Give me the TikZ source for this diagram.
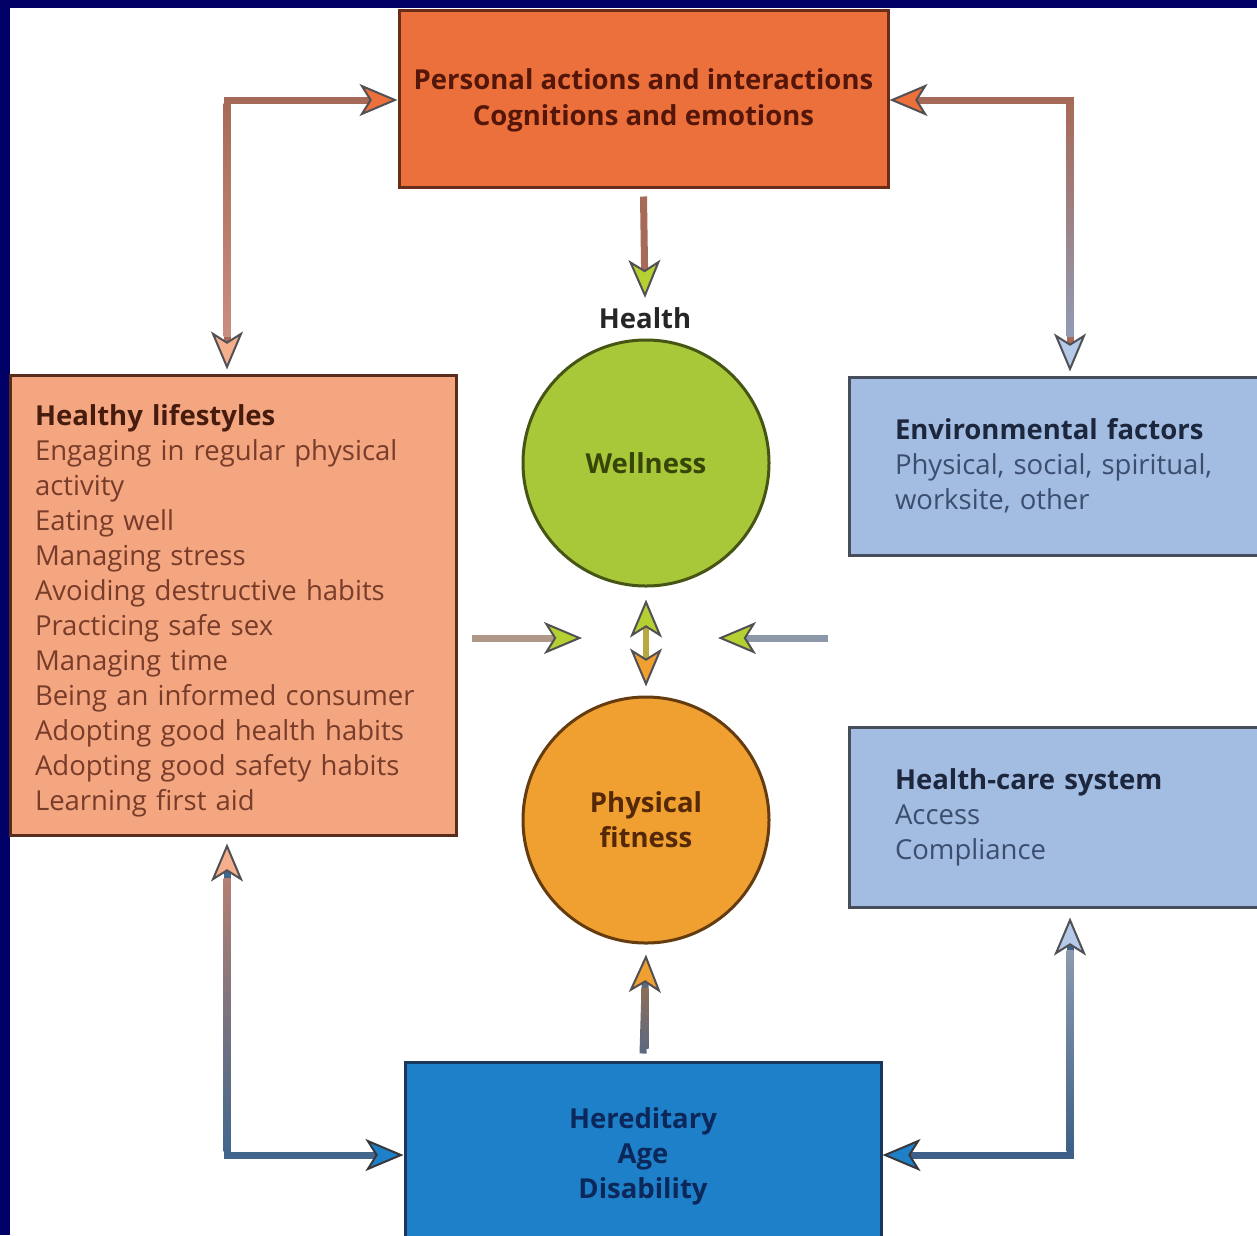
\documentclass[tikz,border=0pt]{standalone}
\usepackage{fontspec}
\setmainfont{Open Sans}
\usetikzlibrary{arrows.meta,calc}
\definecolor{navy}{RGB}{0,0,102}
\definecolor{topfill}{RGB}{236,112,60}
\definecolor{topborder}{RGB}{105,45,25}
\definecolor{toptext}{RGB}{85,22,10}
\definecolor{lifefill}{RGB}{244,166,128}
\definecolor{lifeborder}{RGB}{88,45,28}
\definecolor{lifetitle}{RGB}{70,28,15}
\definecolor{lifetext}{RGB}{120,60,42}
\definecolor{envfill}{RGB}{162,188,226}
\definecolor{envborder}{RGB}{70,78,92}
\definecolor{envtitle}{RGB}{28,38,60}
\definecolor{envtext}{RGB}{60,78,110}
\definecolor{herfill}{RGB}{30,128,200}
\definecolor{herborder}{RGB}{25,55,90}
\definecolor{hertext}{RGB}{12,40,90}
\definecolor{wellfill}{RGB}{168,200,58}
\definecolor{wellborder}{RGB}{70,85,20}
\definecolor{welltext}{RGB}{55,70,8}
\definecolor{fitfill}{RGB}{240,160,48}
\definecolor{fitborder}{RGB}{100,60,15}
\definecolor{fittext}{RGB}{85,40,8}
\definecolor{brownA}{RGB}{168,106,88}
\definecolor{pinkA}{RGB}{200,142,126}
\definecolor{greyblue}{RGB}{145,155,180}
\definecolor{midgrey}{RGB}{140,135,150}
\definecolor{blueA}{RGB}{66,103,140}
\definecolor{blueB}{RGB}{62,96,136}
\definecolor{lightshaft}{RGB}{140,155,175}
\definecolor{tanshaft}{RGB}{176,152,136}
\definecolor{rshaft}{RGB}{140,152,168}
\definecolor{yshaft}{RGB}{184,168,64}
\definecolor{fshaft}{RGB}{95,105,125}
\definecolor{fshafttop}{RGB}{140,110,90}
\definecolor{tipline}{RGB}{80,80,85}
\tikzset{
  box/.style={draw, rectangle, line width=3pt, inner sep=0pt},
  conn/.style={line width=7pt},
  Ttop/.tip={Stealth[length=38pt,width=32pt,inset=10pt,line width=2pt,color=tipline,fill=topfill]},
  Tlife/.tip={Stealth[length=38pt,width=32pt,inset=10pt,line width=2pt,color=tipline,fill=lifefill!90!white]},
  Tenv/.tip={Stealth[length=38pt,width=32pt,inset=10pt,line width=2pt,color=tipline,fill=envfill!80!white]},
  Ther/.tip={Stealth[length=38pt,width=32pt,inset=10pt,line width=2pt,color=tipline!70!black,fill=herfill]},
  Twell/.tip={Stealth[length=38pt,width=32pt,inset=10pt,line width=2pt,color=tipline,fill=wellfill!85!yellow]},
  Tfit/.tip={Stealth[length=38pt,width=32pt,inset=10pt,line width=2pt,color=tipline,fill=fitfill]},
  bodyfont/.style={font=\fontsize{27.5}{35}\selectfont},
  boldfont/.style={font=\bfseries\fontsize{27.5}{35}\selectfont},
}
\begin{document}
\begin{tikzpicture}[x=1pt,y=-1pt]
\clip (0,0) rectangle (1257,1235);
\fill[navy] (0,0) rectangle (1257,1235);
\fill[white] (10,8) rectangle (1257,1235);

% boxes
\node[box, draw=topborder, fill=topfill, minimum width=489pt, minimum height=177pt,
  align=center, text=toptext, font=\bfseries\fontsize{27.5}{36}\selectfont] (top) at (643.5,98.5)
  {\rule{0pt}{24pt}Personal actions and interactions\\Cognitions and emotions};

\node[box, draw=lifeborder, fill=lifefill, minimum width=446pt, minimum height=460pt,
  text width=396pt, align=left, text=lifetext, bodyfont] (life) at (233,605)
  {\rule{0pt}{33pt}{\bfseries\color{lifetitle}Healthy lifestyles}\\
   Engaging in regular physical\\
   activity\\
   Eating well\\
   Managing stress\\
   Avoiding destructive habits\\
   Practicing safe sex\\
   Managing time\\
   Being an informed consumer\\
   Adopting good health habits\\
   Adopting good safety habits\\
   Learning first aid};

\node[box, draw=envborder, fill=envfill, minimum width=441pt, minimum height=178pt,
  text width=349pt, align=left, text=envtext, bodyfont] (env) at (1069.5,466)
  {{\bfseries\color{envtitle}Environmental factors}\\
   Physical, social, spiritual,\\
   worksite, other};

\node[box, draw=envborder, fill=envfill, minimum width=441pt, minimum height=180pt,
  text width=349pt, align=left, text=envtext, bodyfont] (hc) at (1069.5,817)
  {{\bfseries\color{envtitle}Health-care system}\\
   Access\\
   Compliance};

\node[box, draw=herborder, fill=herfill, minimum width=476pt, minimum height=188pt,
  align=center, text=hertext, boldfont] (her) at (643,1156)
  {Hereditary\\Age\\Disability};

% circles
\node[circle, draw=wellborder, line width=3pt, fill=wellfill, minimum size=246pt, inner sep=0pt,
  text=welltext, boldfont] (well) at (646,463) {Wellness};
\node[circle, draw=fitborder, line width=3pt, fill=fitfill, minimum size=246pt, inner sep=0pt,
  align=center, text=fittext, boldfont] (fit) at (646,820) {Physical\\fitness};
\node[text=black!85, boldfont] (health) at (645,318) {Health};

% corner coordinates
\coordinate (cTL) at (227,100);
\coordinate (cTR) at (1070,100);
\coordinate (cBL) at (227,1155);
\coordinate (cBR) at (1070,1155);
\coordinate (cLs) at (472,638);
\coordinate (cLe) at (582,638);
\coordinate (cRs) at (828,638);
\coordinate (cRe) at (718,638);

% outer connectors
\draw[conn, color=brownA, Ttop-Tlife, shorten >=4pt] (top.west |- cTL) -| (life.north -| cTL);
\shade[top color=brownA, middle color=brownA, bottom color=pinkA] (223.5,103.5) rectangle (230.5,336);

\draw[conn, color=brownA, Ttop-Tenv, shorten >=4pt] (top.east |- cTR) -| (env.north -| cTR);
\shade[top color=brownA, middle color=brownA!70!greyblue, bottom color=greyblue] (1066.5,103.5) rectangle (1073.5,336);

\draw[conn, color=blueA, Tlife-Ther, shorten <=7pt] (life.south -| cBL) |- (her.west |- cBL);
\shade[top color=pinkA!90!black, middle color=midgrey, bottom color=blueA] (223.5,878) rectangle (230.5,1151.5);

\draw[conn, color=blueB, Tenv-Ther, shorten <=9pt] (hc.south -| cBR) |- (her.east |- cBR);
\shade[top color=lightshaft, bottom color=blueB] (1066.5,950) rectangle (1073.5,1151.5);

% inner connectors
\draw[conn, color=brownA, -Twell] ($(top.south)+(0,8)$) -- ($(health.north)+(0,-6)$);
\draw[conn, color=tanshaft, -Twell] (cLs) -- (cLe);
\draw[conn, color=rshaft, -Twell] (cRs) -- (cRe);
\draw[conn, line width=6pt, color=yshaft, Twell-Tfit] ($(well.south)+(0,12)$) -- ($(fit.north)+(0,-9)$);
\draw[conn, color=fshaft, -Tfit] ($(her.north)+(0,-7)$) -- ($(fit.south)+(0,10)$);
\shade[top color=fshafttop, bottom color=fshaft] (641.5,988) rectangle (648.5,1048);
\end{tikzpicture}
\end{document}
